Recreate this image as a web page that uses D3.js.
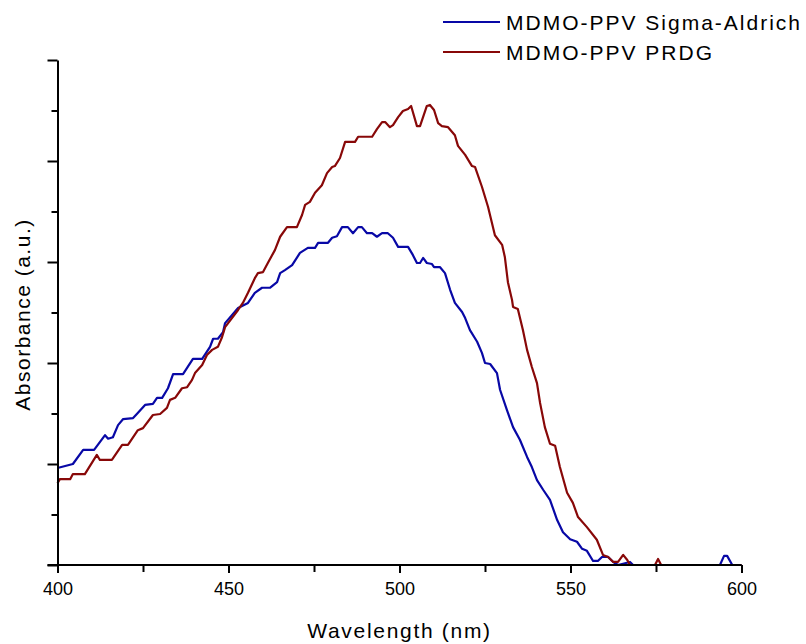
<!DOCTYPE html>
<html lang="en">

<head>
    <meta charset="UTF-8">
    <title>Absorbance</title>
    <style>
        body {
            margin: 0;
            background-color: #fff;
        }

        svg text {
            font-family: "Liberation Sans", Arial, sans-serif;
            fill: #000;
        }
    </style>
</head>

<body>
    <script src="https://d3js.org/d3.v7.min.js"></script>
    <div id="my_dataviz"></div>
    <script>

        // wavelength (nm) and absorbance (a.u.)
        const sigmaWl = [400, 404.5, 407.5, 410.7, 413.9, 414.8, 416.2, 417.7, 419.2, 422.1, 423.2, 425.6, 427.9, 429.1, 430.6,
            432.3, 433.8, 436.7, 439.6, 442.3, 444.6, 445.5, 446.9, 448.4, 449.0, 452.8, 455.7, 457.7, 459.8, 462.1, 464.2,
            465.1, 466.5, 468.6, 470.9, 473.2, 475.3, 476.2, 479.1, 480.3, 481.7, 483.2, 484.9, 486.4, 487.9, 489.0, 490.5,
            492.0, 493.4, 494.9, 496.6, 498.1, 499.6, 502.5, 503.9, 505.1, 506.0, 506.9, 508.0, 509.5, 510.1, 511.8, 513.3,
            514.8, 516.2, 518.3, 519.2, 520.6, 522.7, 524.1, 525.0, 526.5, 528.5, 529.4, 531.4, 533.2, 535.2, 537.3, 538.7,
            540.2, 542.0, 544.0, 546.1, 547.8, 549.9, 551.9, 553.4, 554.8, 556.6, 558.0, 559.2, 561.0, 562.5, 563.9, 567.4,
            568.3, 593.7, 594.9, 595.8, 597.3, 600];
        const sigmaAbs = [0.192, 0.200, 0.228, 0.228, 0.257, 0.250, 0.253, 0.277, 0.289, 0.291, 0.299, 0.317, 0.319, 0.331, 0.331,
            0.350, 0.378, 0.378, 0.408, 0.408, 0.432, 0.448, 0.448, 0.461, 0.479, 0.509, 0.519, 0.539, 0.549, 0.549, 0.560,
            0.578, 0.584, 0.594, 0.618, 0.628, 0.628, 0.638, 0.638, 0.648, 0.651, 0.669, 0.669, 0.657, 0.669, 0.669, 0.657,
            0.657, 0.650, 0.657, 0.657, 0.648, 0.630, 0.630, 0.614, 0.598, 0.598, 0.608, 0.598, 0.596, 0.590, 0.590, 0.578,
            0.545, 0.519, 0.501, 0.489, 0.465, 0.442, 0.420, 0.400, 0.398, 0.380, 0.347, 0.307, 0.273, 0.248, 0.214, 0.194,
            0.168, 0.149, 0.129, 0.089, 0.065, 0.051, 0.046, 0.032, 0.028, 0.008, 0.008, 0.016, 0.016, 0.006, 0, 0.006,
            0, 0, 0.018, 0.018, 0, 0];

        const prdgWl = [400, 400.7, 403.7, 404.5, 408.0, 411.5, 412.4, 415.9, 418.9, 420.6, 423.5, 425.0, 427.9, 430.0, 432.0,
            432.9, 434.4, 436.4, 437.9, 439.3, 440.2, 442.3, 443.7, 445.2, 446.9, 448.1, 449.0, 452.8, 454.2, 455.7, 457.7,
            458.6, 460.1, 461.5, 463.6, 465.1, 467.1, 470.0, 471.5, 472.4, 473.8, 475.3, 477.3, 478.8, 480.3, 481.1, 482.6,
            484.1, 487.0, 487.9, 492.0, 493.4, 494.9, 495.8, 497.2, 498.1, 499.6, 501.0, 502.5, 503.4, 505.1, 506.0, 508.0,
            508.9, 510.1, 511.3, 512.4, 514.2, 516.2, 517.1, 519.2, 521.2, 522.1, 524.1, 525.9, 527.9, 530.0, 530.8, 531.7,
            532.9, 533.2, 534.6, 536.1, 537.3, 538.7, 540.2, 541.1, 542.5, 544.0, 545.5, 546.9, 549.0, 550.7, 552.2, 554.8,
            557.7, 559.5, 561.0, 562.5, 563.9, 565.4, 566.6, 567.4, 574.7, 575.6, 576.5, 600];
        const prdgAbs = [0.162, 0.170, 0.170, 0.180, 0.180, 0.218, 0.208, 0.208, 0.238, 0.238, 0.267, 0.271, 0.297, 0.299, 0.311,
            0.327, 0.331, 0.350, 0.352, 0.366, 0.380, 0.396, 0.416, 0.426, 0.432, 0.451, 0.471, 0.505, 0.519, 0.539, 0.568,
            0.578, 0.580, 0.598, 0.624, 0.650, 0.669, 0.669, 0.693, 0.713, 0.719, 0.737, 0.752, 0.776, 0.788, 0.790, 0.806,
            0.838, 0.838, 0.848, 0.848, 0.863, 0.877, 0.877, 0.867, 0.871, 0.887, 0.899, 0.903, 0.909, 0.869, 0.869, 0.909,
            0.911, 0.901, 0.875, 0.869, 0.867, 0.851, 0.830, 0.812, 0.790, 0.788, 0.749, 0.709, 0.653, 0.634, 0.610, 0.560,
            0.525, 0.511, 0.507, 0.465, 0.426, 0.392, 0.360, 0.321, 0.273, 0.240, 0.236, 0.194, 0.143, 0.123, 0.095, 0.075,
            0.050, 0.020, 0.016, 0.006, 0.006, 0.020, 0.010, 0, 0, 0.012, 0, 0];

        const seriesNames = ["MDMO-PPV Sigma-Aldrich", "MDMO-PPV PRDG"];
        const seriesColors = ["#0808a6", "#880808"];
        const xTicks = [400, 450, 500, 550, 600];
        const xMinorTicks = [425, 475, 525, 575];
        const yTicks = [0, 0.2, 0.4, 0.6, 0.8, 1.0];
        const yMinorTicks = [0.1, 0.3, 0.5, 0.7, 0.9];

        const margin = { top: 60, right: 64.5, bottom: 79, left: 57.5 },
            width = 806 - margin.left - margin.right,
            height = 644 - margin.top - margin.bottom;

        const svg = d3.select("#my_dataviz")
            .append("svg")
            .attr("width", 806)
            .attr("height", 644)
            .append("g")
            .attr("transform", `translate(${margin.left},${margin.top})`);

        const x = d3.scaleLinear().domain([400, 600]).range([0, width]);
        const y = d3.scaleLinear().domain([0, 1]).range([height, 0]);

        const data = [
            sigmaWl.map((w, i) => ({ w: w, a: sigmaAbs[i] })),
            prdgWl.map((w, i) => ({ w: w, a: prdgAbs[i] }))
        ];

        const line = d3.line()
            .x(d => x(d.w))
            .y(d => y(d.a));

        // the two spectra
        svg.append("g")
            .selectAll("path")
            .data(data)
            .join("path")
            .attr("fill", "none")
            .attr("stroke", (d, i) => seriesColors[i])
            .attr("stroke-width", 2.2)
            .attr("stroke-linejoin", "round")
            .attr("d", line);

        // X axis with minor ticks
        const xAxis = svg.append("g")
            .attr("transform", `translate(0, ${height})`)
            .call(d3.axisBottom(x).tickValues(xTicks).tickSize(8).tickSizeOuter(0).tickPadding(9));
        svg.append("g")
            .attr("transform", `translate(0, ${height})`)
            .call(d3.axisBottom(x).tickValues(xMinorTicks).tickSize(7).tickFormat(""))
            .call(g => g.select(".domain").remove());
        xAxis.select(".domain").attr("d", `M-10,0H${width}`);
        xAxis.selectAll("text").style("font-size", "18px").style("font-family", "'Liberation Sans', Arial");

        // Y axis, no labels
        svg.append("g")
            .call(d3.axisLeft(y).tickValues(yTicks).tickSize(10).tickSizeOuter(0).tickFormat(""));
        svg.append("g")
            .call(d3.axisLeft(y).tickValues(yMinorTicks).tickSize(6).tickFormat(""))
            .call(g => g.select(".domain").remove());

        svg.selectAll(".domain, .tick line")
            .attr("stroke", "#000")
            .attr("stroke-width", 2);

        // axis titles
        svg.append("text")
            .attr("x", width / 2)
            .attr("y", height + 73)
            .attr("text-anchor", "middle")
            .style("font-size", "21px")
            .style("letter-spacing", "1.7px")
            .text("Wavelength (nm)");

        svg.append("text")
            .attr("transform", `translate(-28, ${height / 2 + 2}) rotate(-90)`)
            .attr("text-anchor", "middle")
            .style("font-size", "21px")
            .style("letter-spacing", "1.5px")
            .text("Absorbance (a.u.)");

        // legend
        const legend = svg.append("g")
            .attr("transform", `translate(${443 - margin.left}, ${22 - margin.top})`);
        seriesNames.forEach((name, i) => {
            legend.append("line")
                .attr("x1", 0)
                .attr("x2", 57)
                .attr("y1", i * 30)
                .attr("y2", i * 30)
                .attr("stroke", seriesColors[i])
                .attr("stroke-width", 2.2);
            legend.append("text")
                .attr("x", 63)
                .attr("y", i * 30 + 8)
                .style("font-size", "21px")
                .style("letter-spacing", "2px")
                .text(name);
        });

    </script>
</body>

</html>
